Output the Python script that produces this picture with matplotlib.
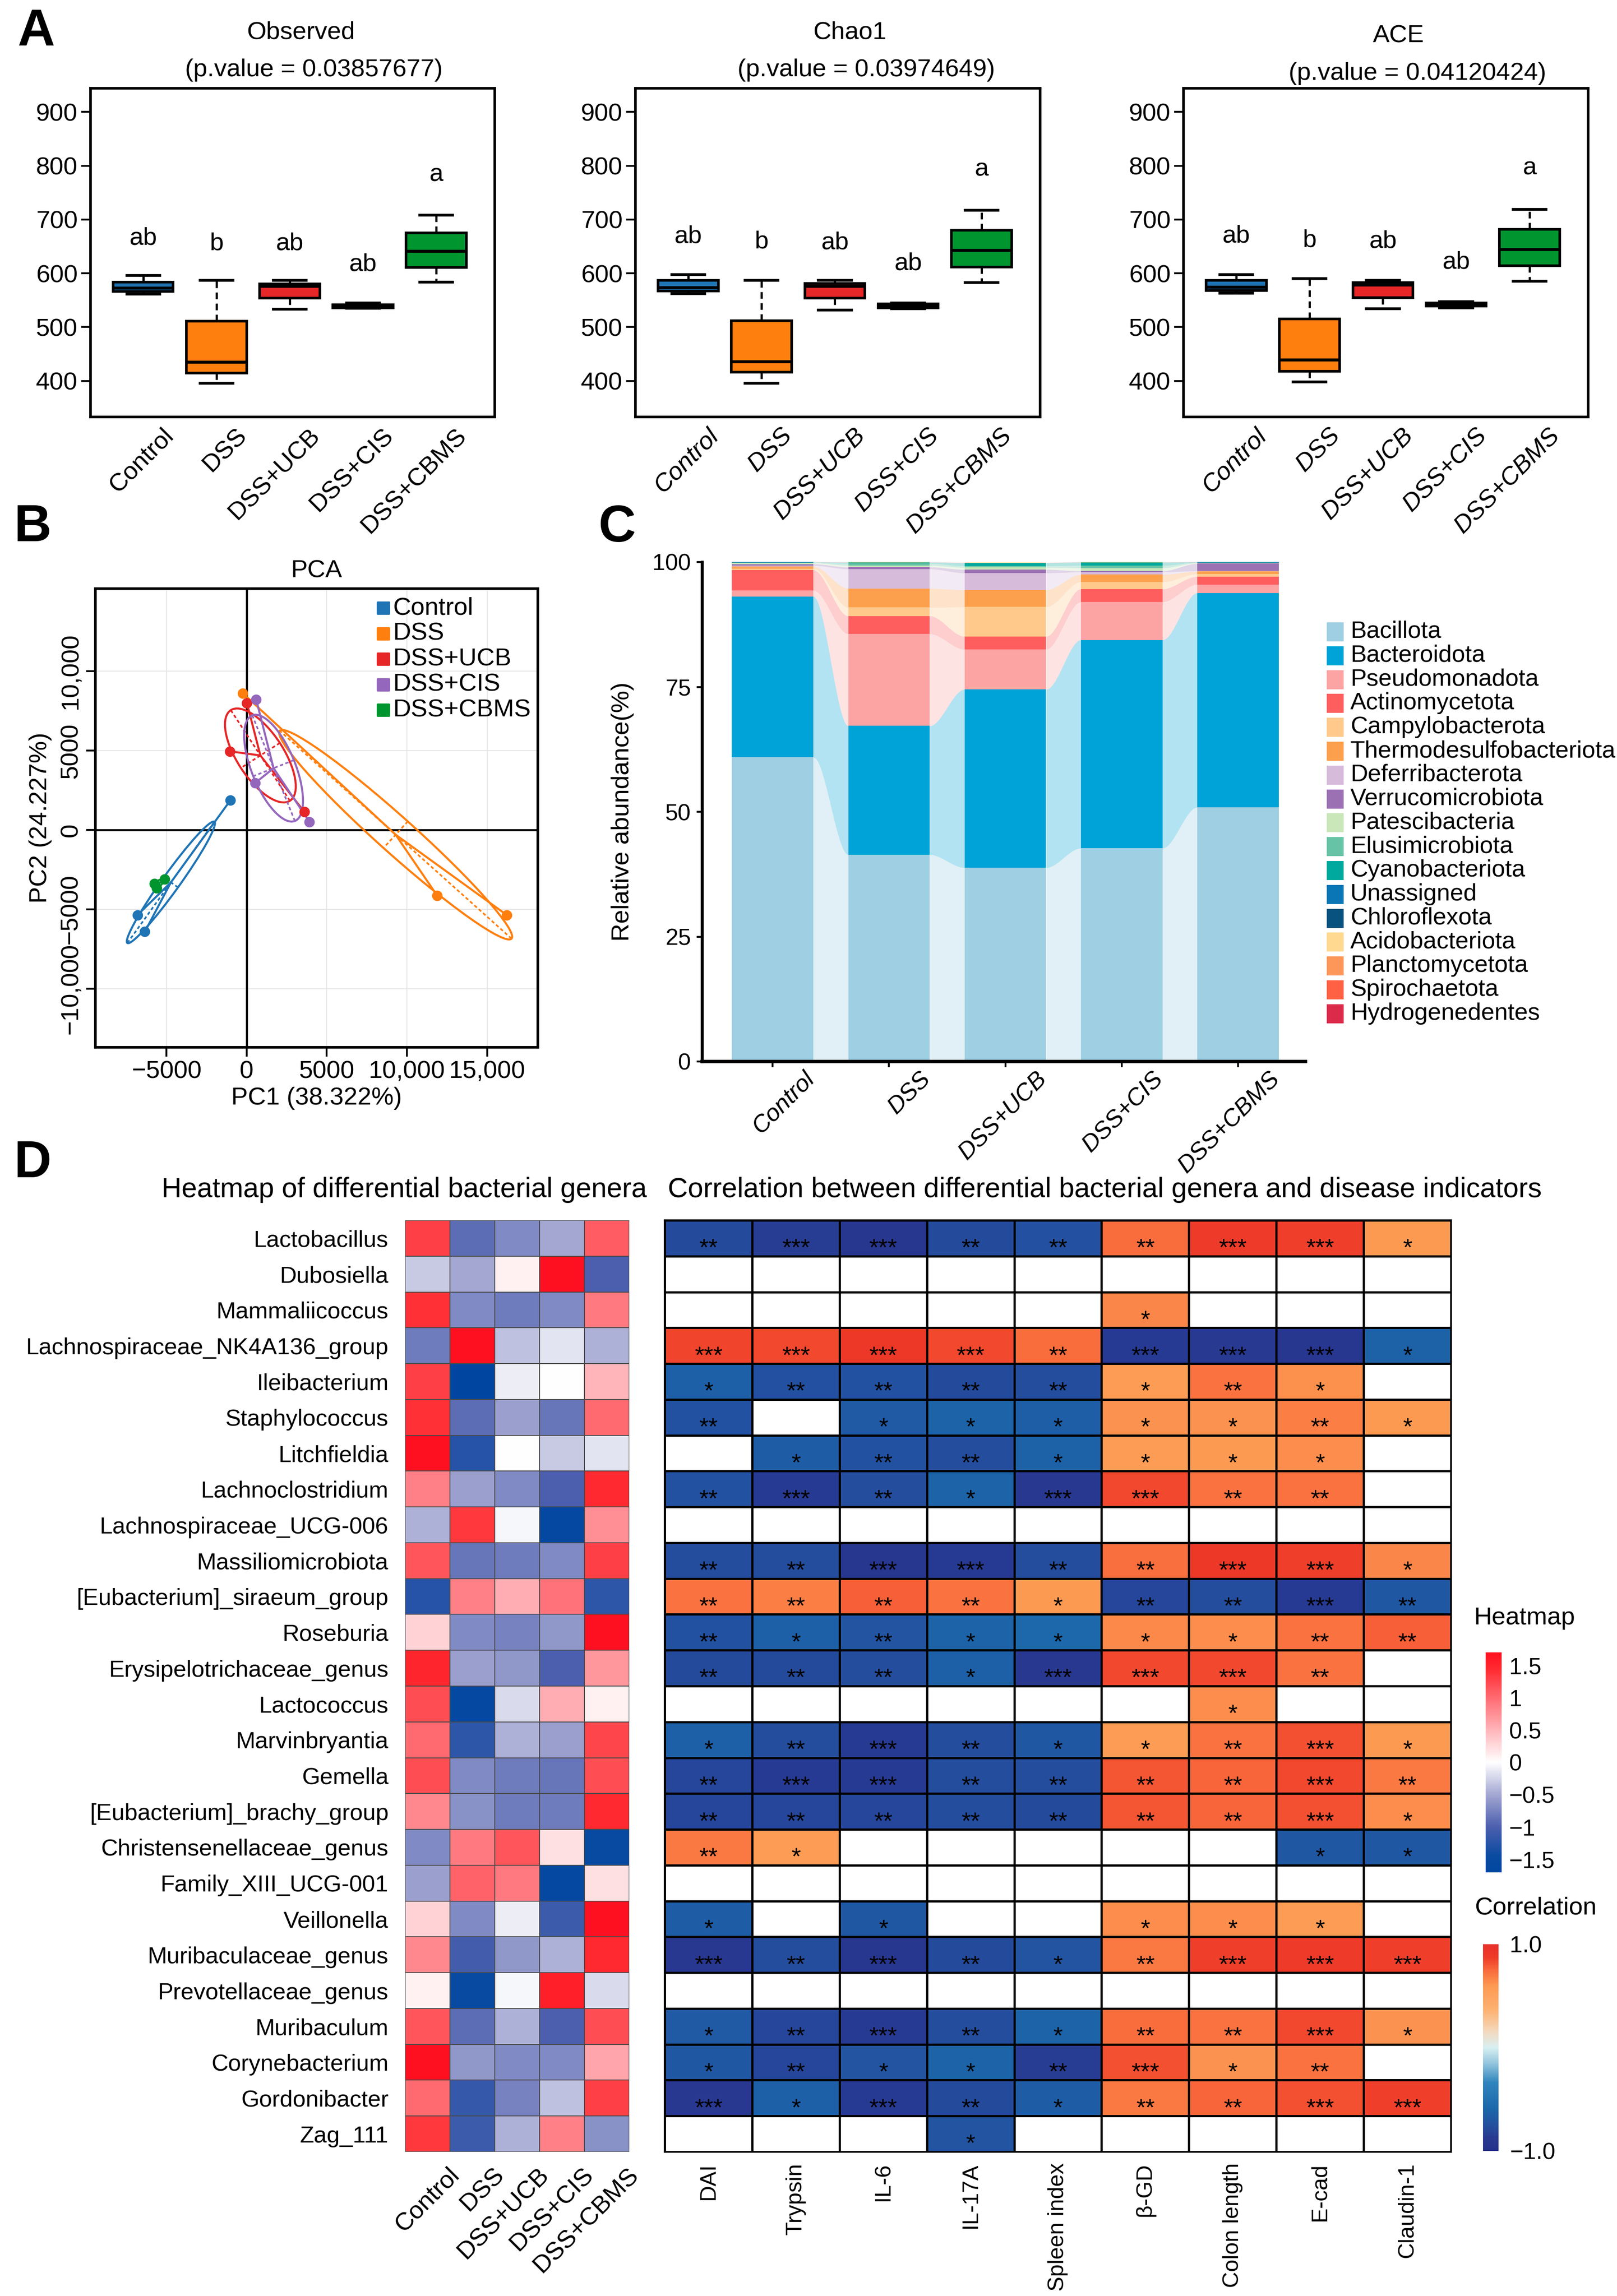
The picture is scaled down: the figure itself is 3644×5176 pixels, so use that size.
import numpy as np
import matplotlib
matplotlib.use('Agg')
from matplotlib import pyplot as plt
from matplotlib.colors import LinearSegmentedColormap, Normalize
from matplotlib.cm import ScalarMappable
from matplotlib.patches import Ellipse, Rectangle
import matplotlib.transforms as mtransforms

W, H = 3644, 5176
DPI = 300

plt.rcParams['font.family'] = ['Liberation Sans', 'DejaVu Sans']
plt.rcParams['font.size'] = 13.5
plt.rcParams['axes.unicode_minus'] = True

# ---------------- data ----------------
groups = ['Control', 'DSS', 'DSS+UCB', 'DSS+CIS', 'DSS+CBMS']
group_colors = ['#1f74b5', '#ff7f0e', '#e62627', '#9467bd', '#00952f']

# (whislo, q1, median, q3, whishi)
observed_stats = [(561, 566, 573, 584, 596), (396, 415, 435, 511, 587),
                  (533, 554, 576, 580, 587), (535, 536, 538.5, 541.5, 545),
                  (584, 611, 641, 675, 708)]
chao1_stats = [(562, 567, 574, 587, 598), (396, 416, 436, 512, 587),
               (532, 554, 576, 581, 587), (534, 536, 540, 543, 545),
               (583, 612, 643, 680, 717)]
ace_stats = [(563, 568, 575, 587, 598), (398, 418, 439, 515, 590),
             (534, 555, 578.5, 583, 587), (536, 539, 542, 545, 547),
             (585, 614, 645, 682, 719)]
letters = ['ab', 'b', 'ab', 'ab', 'a']
observed_letter_y = [665, 655, 655, 616, 783]
chao1_letter_y = [668, 658, 657, 618, 793]
ace_letter_y = [669, 661, 659, 620, 795]

pca_pc1 = [[-1014, -6800, -6340], [-230, 11890, 16220], [23, -1040, 3600],
           [600, 530, 3920], [-5740, -5115, -5600]]
pca_pc2 = [[1860, -5350, -6400], [8600, -4140, -5350], [7980, 4950, 1140],
           [8210, 2950, 510], [-3370, -3090, -3650]]
pca_xticks = [-5000, 0, 5000, 10000, 15000]
pca_xticklabels = ['\u22125000', '0', '5000', '10,000', '15,000']
pca_yticks = [-10000, -5000, 0, 5000, 10000]
pca_yticklabels = ['\u221210,000', '\u22125000', '0', '5000', '10,000']

phyla = ['Bacillota', 'Bacteroidota', 'Pseudomonadota', 'Actinomycetota',
         'Campylobacterota', 'Thermodesulfobacteriota', 'Deferribacterota',
         'Verrucomicrobiota', 'Patescibacteria', 'Elusimicrobiota',
         'Cyanobacteriota', 'Unassigned', 'Chloroflexota', 'Acidobacteriota',
         'Planctomycetota', 'Spirochaetota', 'Hydrogenedentes']
phylum_colors = ['#9ecfe2', '#00a3d7', '#fca3a3', '#fe5e5e', '#fec98b',
                 '#fda04d', '#d6bbdb', '#9b71b3', '#c9e7b9', '#66c3a5',
                 '#00a99d', '#0a76b5', '#08527f', '#fed98f', '#fd9659',
                 '#ff6144', '#dc2a4b']
abund_control = [60.9, 32.2, 1.2, 4.1, 0.3, 0.4, 0.2, 0.3, 0.2, 0.1, 0.05, 0.02, 0.01, 0.01, 0.01, 0.01, 0.01]
abund_dss = [41.4, 25.8, 18.4, 3.6, 1.7, 3.8, 3.9, 0.4, 0.3, 0.4, 0.2, 0.03, 0.02, 0.02, 0.01, 0.01, 0.01]
abund_ucb = [38.8, 35.7, 8.0, 2.6, 5.9, 3.4, 3.4, 0.7, 0.4, 0.3, 0.6, 0.03, 0.02, 0.02, 0.01, 0.01, 0.01]
abund_cis = [42.7, 41.7, 7.6, 2.6, 1.4, 1.5, 0.5, 0.2, 0.6, 0.5, 0.6, 0.03, 0.02, 0.02, 0.01, 0.01, 0.01]
abund_cbms = [50.9, 42.9, 1.7, 1.6, 0.5, 0.5, 0.1, 1.5, 0.1, 0.1, 0.05, 0.03, 0.02, 0.02, 0.01, 0.01, 0.01]

genera = ['Lactobacillus', 'Dubosiella', 'Mammaliicoccus',
          'Lachnospiraceae_NK4A136_group', 'Ileibacterium', 'Staphylococcus',
          'Litchfieldia', 'Lachnoclostridium', 'Lachnospiraceae_UCG-006',
          'Massiliomicrobiota', '[Eubacterium]_siraeum_group', 'Roseburia',
          'Erysipelotrichaceae_genus', 'Lactococcus', 'Marvinbryantia', 'Gemella',
          '[Eubacterium]_brachy_group', 'Christensenellaceae_genus',
          'Family_XIII_UCG-001', 'Veillonella', 'Muribaculaceae_genus',
          'Prevotellaceae_genus', 'Muribaculum', 'Corynebacterium',
          'Gordonibacter', 'Zag_111']

genus_zscores = [
    [1.3, -0.9, -0.7, -0.5, 1.1],
    [-0.3, -0.5, 0.1, 1.7, -1.0],
    [1.4, -0.7, -0.8, -0.7, 0.9],
    [-0.8, 1.8, -0.35, -0.15, -0.45],
    [1.3, -1.7, -0.1, 0.0, 0.5],
    [1.4, -0.9, -0.55, -0.85, 1.0],
    [1.7, -1.25, 0.0, -0.3, -0.15],
    [0.85, -0.55, -0.7, -1.0, 1.45],
    [-0.45, 1.35, -0.05, -1.6, 0.75],
    [1.15, -0.85, -0.8, -0.7, 1.3],
    [-1.25, 0.85, 0.55, 0.95, -1.2],
    [0.3, -0.7, -0.75, -0.6, 1.75],
    [1.5, -0.55, -0.6, -1.0, 0.7],
    [1.2, -1.6, -0.2, 0.55, 0.1],
    [1.0, -1.2, -0.45, -0.55, 1.25],
    [1.2, -0.7, -0.8, -0.85, 1.2],
    [0.8, -0.65, -0.8, -0.8, 1.45],
    [-0.7, 0.9, 1.15, 0.2, -1.5],
    [-0.55, 1.05, 0.9, -1.6, 0.2],
    [0.3, -0.7, -0.1, -1.1, 1.7],
    [0.8, -1.05, -0.6, -0.45, 1.45],
    [0.1, -1.5, -0.05, 1.55, -0.2],
    [1.15, -0.9, -0.45, -1.0, 1.2],
    [1.75, -0.6, -0.7, -0.7, 0.6],
    [1.0, -1.15, -0.75, -0.35, 1.3],
    [1.35, -1.1, -0.45, 0.85, -0.65],
]

indicators = ['DAI', 'Trypsin', 'IL-6', 'IL-17A', 'Spleen index', '\u03b2-GD',
              'Colon length', 'E-cad', 'Claudin-1']
N = np.nan
corr_values = [
    [-0.78, -0.85, -0.9, -0.78, -0.75, 0.74, 0.88, 0.86, 0.6],
    [N, N, N, N, N, N, N, N, N],
    [N, N, N, N, N, 0.66, N, N, N],
    [0.85, 0.84, 0.9, 0.84, 0.74, -0.86, -0.87, -0.9, -0.63],
    [-0.64, -0.75, -0.74, -0.78, -0.76, 0.58, 0.72, 0.63, N],
    [-0.74, N, -0.68, -0.62, -0.65, 0.62, 0.62, 0.68, 0.6],
    [N, -0.66, -0.74, -0.76, -0.63, 0.58, 0.6, 0.64, N],
    [-0.74, -0.86, -0.76, -0.62, -0.88, 0.84, 0.72, 0.72, N],
    [N, N, N, N, N, N, N, N, N],
    [-0.76, -0.76, -0.92, -0.86, -0.76, 0.73, 0.9, 0.86, 0.66],
    [0.72, 0.68, 0.78, 0.72, 0.6, -0.8, -0.76, -0.86, -0.7],
    [-0.74, -0.64, -0.72, -0.62, -0.58, 0.65, 0.64, 0.72, 0.78],
    [-0.78, -0.78, -0.76, -0.64, -0.88, 0.84, 0.84, 0.72, N],
    [N, N, N, N, N, N, 0.64, N, N],
    [-0.64, -0.76, -0.86, -0.76, -0.7, 0.58, 0.72, 0.82, 0.6],
    [-0.8, -0.86, -0.86, -0.76, -0.76, 0.8, 0.76, 0.84, 0.7],
    [-0.8, -0.8, -0.8, -0.76, -0.78, 0.8, 0.76, 0.82, 0.64],
    [0.7, 0.58, N, N, N, N, N, -0.7, -0.7],
    [N, N, N, N, N, N, N, N, N],
    [-0.66, N, -0.7, N, N, 0.64, 0.64, 0.58, N],
    [-0.88, -0.76, -0.92, -0.78, -0.72, 0.7, 0.86, 0.88, 0.86],
    [N, N, N, N, N, N, N, N, N],
    [-0.68, -0.8, -0.86, -0.76, -0.62, 0.74, 0.72, 0.84, 0.62],
    [-0.7, -0.8, -0.72, -0.62, -0.85, 0.82, 0.62, 0.72, N],
    [-0.88, -0.64, -0.86, -0.78, -0.66, 0.7, 0.76, 0.82, 0.86],
    [N, N, N, -0.72, N, N, N, N, N],
]
corr_stars = [
    ['**', '***', '***', '**', '**', '**', '***', '***', '*'],
    ['', '', '', '', '', '', '', '', ''],
    ['', '', '', '', '', '*', '', '', ''],
    ['***', '***', '***', '***', '**', '***', '***', '***', '*'],
    ['*', '**', '**', '**', '**', '*', '**', '*', ''],
    ['**', '', '*', '*', '*', '*', '*', '**', '*'],
    ['', '*', '**', '**', '*', '*', '*', '*', ''],
    ['**', '***', '**', '*', '***', '***', '**', '**', ''],
    ['', '', '', '', '', '', '', '', ''],
    ['**', '**', '***', '***', '**', '**', '***', '***', '*'],
    ['**', '**', '**', '**', '*', '**', '**', '***', '**'],
    ['**', '*', '**', '*', '*', '*', '*', '**', '**'],
    ['**', '**', '**', '*', '***', '***', '***', '**', ''],
    ['', '', '', '', '', '', '*', '', ''],
    ['*', '**', '***', '**', '*', '*', '**', '***', '*'],
    ['**', '***', '***', '**', '**', '**', '**', '***', '**'],
    ['**', '**', '**', '**', '**', '**', '**', '***', '*'],
    ['**', '*', '', '', '', '', '', '*', '*'],
    ['', '', '', '', '', '', '', '', ''],
    ['*', '', '*', '', '', '*', '*', '*', ''],
    ['***', '**', '***', '**', '*', '**', '***', '***', '***'],
    ['', '', '', '', '', '', '', '', ''],
    ['*', '**', '***', '**', '*', '**', '**', '***', '*'],
    ['*', '**', '*', '*', '**', '***', '*', '**', ''],
    ['***', '*', '***', '**', '*', '**', '**', '***', '***'],
    ['', '', '', '*', '', '', '', '', ''],
]

# ---------------- helpers ----------------
def rect(l, t, r, b):
    return [l / W, 1 - b / H, (r - l) / W, (b - t) / H]


def px_offset(ax, dx, dy):
    return mtransforms.ScaledTranslation(dx / DPI, dy / DPI, ax.figure.dpi_scale_trans)


fig = plt.figure(figsize=(W / DPI, H / DPI), dpi=DPI)

# ---------------- A: alpha diversity ----------------
alpha_panels = [
    ('Observed', '(p.value = 0.03857677)', observed_stats, observed_letter_y,
     (204, 199, 1115, 940), (0.521, 0.553), (1.169, 1.055), 'normal'),
    ('Chao1', '(p.value = 0.03974649)', chao1_stats, chao1_letter_y,
     (1432, 199, 2344, 940), (0.53, 0.57), (1.169, 1.055), 'italic'),
    ('ACE', '(p.value = 0.04120424)', ace_stats, ace_letter_y,
     (2667, 199, 3579, 940), (0.532, 0.578), (1.159, 1.045), 'italic'),
]
positions = np.arange(1, 6)
for name, ptxt, stats, let_y, box, tx, ty, xstyle in alpha_panels:
    ax = fig.add_axes(rect(*box))
    bstats = [dict(whislo=s[0], q1=s[1], med=s[2], q3=s[3], whishi=s[4], fliers=[])
              for s in stats]
    bp = ax.bxp(bstats, positions=positions, widths=0.82, patch_artist=True,
                showfliers=False, capwidths=0.45,
                boxprops=dict(lw=1.4, edgecolor='black'),
                whiskerprops=dict(ls=(0, (3, 2)), lw=1.2, color='black'),
                capprops=dict(lw=1.5, color='black'),
                medianprops=dict(color='black', lw=1.6))
    for patch, c in zip(bp['boxes'], group_colors):
        patch.set_facecolor(c)
    for p, lab, y in zip(positions, letters, let_y):
        ax.text(p, y, lab, ha='center', va='center', fontsize=13.5)
    ax.set_xlim(0.28, 5.8)
    ax.set_ylim(333, 944)
    ax.set_yticks([400, 500, 600, 700, 800, 900])
    ax.tick_params(axis='y', length=5, width=1, labelsize=13.5, pad=2)
    ax.set_xticks([])
    for sp in ax.spines.values():
        sp.set_linewidth(1.4)
    trans = ax.get_xaxis_transform() + px_offset(ax, 42, -16)
    for p, g in zip(positions, groups):
        ax.text(p, 0, g, rotation=45, ha='right', va='top', rotation_mode='anchor',
                transform=trans, fontsize=13.5, style=xstyle)
    ax.text(tx[0], ty[0], name, transform=ax.transAxes, ha='center', va='center', fontsize=13.5)
    ax.text(tx[1], ty[1], ptxt, transform=ax.transAxes, ha='center', va='center', fontsize=13.5)

# ---------------- B: PCA ----------------
axb = fig.add_axes(rect(215, 1327, 1212, 2361))
axb.set_xlim(-9424, 18157)
axb.set_ylim(-13674, 15186)
for t in pca_xticks:
    axb.axvline(t, color='#e6e6e6', lw=0.5, zorder=0)
for t in pca_yticks:
    axb.axhline(t, color='#e6e6e6', lw=0.5, zorder=0)
axb.axhline(0, color='black', lw=1.1, zorder=1)
axb.axvline(0, color='black', lw=1.1, zorder=1)


def draw_group(ax, xs, ys, color, n_std=0.85):
    pts = np.column_stack([xs, ys]).astype(float)
    c = pts.mean(axis=0)
    vals, vecs = np.linalg.eigh(np.cov(pts.T))
    order = vals.argsort()[::-1]
    vals, vecs = vals[order], vecs[:, order]
    angle = np.degrees(np.arctan2(vecs[1, 0], vecs[0, 0]))
    ax.add_patch(Ellipse(c, 2 * n_std * np.sqrt(vals[0]), 2.6 * n_std * np.sqrt(vals[1]),
                         angle=angle, fill=False, ec=color, lw=1.1, zorder=2))
    for k in range(2):
        d = vecs[:, k] * n_std * np.sqrt(vals[k]) * (1.0 if k == 0 else 1.3)
        ax.plot([c[0] - d[0], c[0] + d[0]], [c[1] - d[1], c[1] + d[1]],
                ls=(0, (2, 1.5)), color=color, lw=0.9, zorder=2)
    for x, y in pts:
        ax.plot([c[0], x], [c[1], y], color=color, lw=1.1, zorder=2)
    ax.scatter(xs, ys, s=32, color=color, zorder=3, lw=0)


for xs, ys, c in zip(pca_pc1, pca_pc2, group_colors):
    draw_group(axb, xs, ys, c)
axb.set_xticks(pca_xticks)
axb.set_xticklabels(pca_xticklabels)
axb.set_yticks(pca_yticks)
axb.set_yticklabels(pca_yticklabels, rotation=90, va='center')
axb.tick_params(length=5, width=1, labelsize=13.5, pad=2)
for sp in axb.spines.values():
    sp.set_linewidth(1.4)
axb.set_xlabel('PC1 (38.322%)', fontsize=13.5, labelpad=2)
axb.set_ylabel('PC2 (24.227%)', fontsize=13.5, labelpad=4)
axb.set_title('PCA', fontsize=13.5, pad=6)
for i, (g, c) in enumerate(zip(groups, group_colors)):
    y = 0.957 - i * 0.0556
    axb.scatter([0.651], [y], marker='s', s=40, color=c, transform=axb.transAxes, zorder=5)
    axb.text(0.672, y, g, transform=axb.transAxes, va='center', ha='left', fontsize=13.5)

# ---------------- C: relative abundance ----------------
axc = fig.add_axes(rect(1582, 1267, 2942, 2393))
abund = np.array([abund_control, abund_dss, abund_ucb, abund_cis, abund_cbms]).T
xpos = np.arange(len(groups))
bw = 0.7
bottoms = np.vstack([np.zeros(len(groups)), np.cumsum(abund, axis=0)[:-1]])
tt = np.linspace(0, 1, 60)
ss = tt * tt * (3 - 2 * tt)
for j, c in enumerate(phylum_colors):
    axc.bar(xpos, abund[j], bottom=bottoms[j], width=bw, color=c, lw=0)
    lo_all, hi_all = bottoms[j], bottoms[j] + abund[j]
    for i in range(len(groups) - 1):
        x0, x1 = xpos[i] + bw / 2, xpos[i + 1] - bw / 2
        lo = lo_all[i] + (lo_all[i + 1] - lo_all[i]) * ss
        hi = hi_all[i] + (hi_all[i + 1] - hi_all[i]) * ss
        axc.fill_between(x0 + (x1 - x0) * tt, lo, hi, color=c, alpha=0.3, lw=0)
axc.set_xlim(-0.607, 4.58)
axc.set_ylim(0, 100)
axc.spines['top'].set_visible(False)
axc.spines['right'].set_visible(False)
axc.spines['left'].set_linewidth(1.6)
axc.spines['bottom'].set_linewidth(1.8)
axc.set_yticks([0, 25, 50, 75, 100])
axc.tick_params(axis='y', length=3, width=1, labelsize=12.5, pad=3)
axc.set_xticks(xpos)
axc.set_xticklabels([])
axc.tick_params(axis='x', length=3, width=1)
transc = axc.get_xaxis_transform() + px_offset(axc, 68, -14)
for p, g in zip(xpos, groups):
    axc.text(p, 0, g, rotation=45, ha='right', va='top', rotation_mode='anchor',
             transform=transc, fontsize=13, style='italic')
axc.set_ylabel('Relative abundance(%)', fontsize=13.5, labelpad=10)

lax = fig.add_axes(rect(2985, 1400, 3644, 2320))
lax.set_xlim(0, 659)
lax.set_ylim(920, 0)
lax.axis('off')
for i, (p, c) in enumerate(zip(phyla, phylum_colors)):
    yc = 24 + i * 53.8
    lax.add_patch(Rectangle((5, yc - 21), 38, 43, color=c, lw=0))
    lax.text(58, yc, p, va='center', ha='left', fontsize=13)

# ---------------- D: heatmaps ----------------
hm_cmap = LinearSegmentedColormap.from_list('hm', [
    (0.0, '#0046a0'), (0.074, '#0a4ba2'), (0.206, '#4c5fae'), (0.353, '#a3a7d2'),
    (0.5, '#ffffff'), (0.647, '#ffb5ba'), (0.794, '#ff6b72'), (0.926, '#ff2a30'),
    (1.0, '#ff1020')])
hm_norm = Normalize(-1.7, 1.7)

axh = fig.add_axes(rect(913, 2751, 1418, 4851))
axh.pcolormesh(np.array(genus_zscores), cmap=hm_cmap, norm=hm_norm,
               edgecolors='#4a4a4a', linewidth=0.4)
axh.set_xlim(0, len(groups))
axh.set_ylim(len(genera), 0)
for sp in axh.spines.values():
    sp.set_visible(False)
axh.set_yticks(np.arange(len(genera)) + 0.5)
axh.set_yticklabels(genera, fontsize=12.6)
axh.tick_params(axis='y', length=0, pad=9)
axh.set_xticks([])
transh = axh.get_xaxis_transform() + px_offset(axh, 45, -26)
for i, g in enumerate(groups):
    axh.text(i + 0.5, 0, g, rotation=45, ha='right', va='top', rotation_mode='anchor',
             transform=transh, fontsize=13.5)

corr_cmap = LinearSegmentedColormap.from_list('corr', [
    (0.0, '#24318a'), (0.06, '#283891'), (0.125, '#2350a0'), (0.2, '#1b66a9'),
    (0.33, '#2f85bd'), (0.42, '#8fc3dc'), (0.5, '#d8f0f2'), (0.58, '#f4d8bc'),
    (0.68, '#fdb272'), (0.8, '#fd9a52'), (0.875, '#f96a3c'), (0.94, '#ee3a28'),
    (1.0, '#e8302a')]).with_extremes(bad='white')
corr_norm = Normalize(-1, 1)

axr = fig.add_axes(rect(1498, 2751, 3270, 4851))
axr.pcolormesh(np.ma.masked_invalid(np.array(corr_values)), cmap=corr_cmap, norm=corr_norm,
               edgecolors='black', linewidth=0.8)
for i, row in enumerate(corr_stars):
    for j, s in enumerate(row):
        if s:
            axr.text(j + 0.5, i + 0.97, s, ha='center', va='baseline', fontsize=13)
axr.set_xlim(0, len(indicators))
axr.set_ylim(len(genera), 0)
for sp in axr.spines.values():
    sp.set_linewidth(1.0)
axr.set_yticks([])
axr.set_xticks(np.arange(len(indicators)) + 0.5)
axr.set_xticklabels(indicators, rotation=90, va='top', ha='center', fontsize=12)
axr.tick_params(axis='x', length=0, pad=6)

fig.text(911 / W, 1 - 2682 / H, 'Heatmap of differential bacterial genera',
         ha='center', va='center', fontsize=15)
fig.text(2490 / W, 1 - 2682 / H, 'Correlation between differential bacterial genera and disease indicators',
         ha='center', va='center', fontsize=15)

cax1 = fig.add_axes(rect(3348, 3725, 3384, 4221))
cb1 = fig.colorbar(ScalarMappable(norm=hm_norm, cmap=hm_cmap), cax=cax1,
                   ticks=[-1.5, -1, -0.5, 0, 0.5, 1, 1.5])
cb1.ax.set_yticklabels(['\u22121.5', '\u22121', '\u22120.5', '0', '0.5', '1', '1.5'])
cb1.outline.set_visible(False)
cax1.tick_params(length=0, pad=4, labelsize=12.5)
fig.text(3321 / W, 1 - 3648 / H, 'Heatmap', ha='left', va='center', fontsize=13.5)

cax2 = fig.add_axes(rect(3342, 4383, 3377, 4849))
cb2 = fig.colorbar(ScalarMappable(norm=corr_norm, cmap=corr_cmap), cax=cax2, ticks=[-1, 1])
cb2.ax.set_yticklabels(['\u22121.0', '1.0'])
cb2.outline.set_visible(False)
cax2.tick_params(length=0, pad=6, labelsize=12.5)
fig.text(3323 / W, 1 - 4302 / H, 'Correlation', ha='left', va='center', fontsize=13.5)

# panel letters
for lab, (x, y) in zip('ABCD', [(81, 72), (73, 1190), (1390, 1190), (73, 2624)]):
    fig.text(x / W, 1 - y / H, lab, ha='center', va='center', fontsize=28, fontweight='bold')

fig.savefig('out.png', dpi=DPI)
